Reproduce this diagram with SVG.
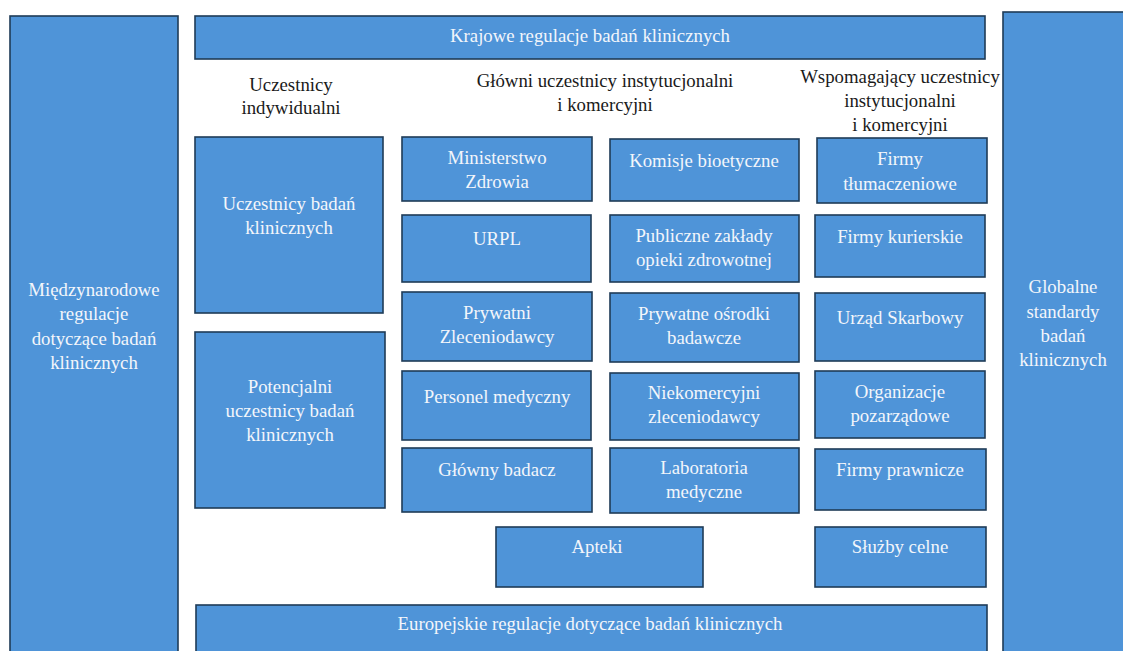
<svg xmlns="http://www.w3.org/2000/svg" width="1123" height="651" viewBox="0 0 1123 651">
  <style>
    .box { fill: #4f94d8; stroke: #1f3b57; stroke-width: 1.6; }
    .w { fill: #f3f6fb; }
    .k { fill: #1a1a1a; }
  </style>
  <rect width="1123" height="651" fill="#ffffff"/>

  <g font-family="Liberation Serif, DejaVu Serif, serif" font-size="18.8" text-anchor="middle">
  <!-- outer frame: international, national, european, global -->
  <g id="miedzynarodowe">
    <rect class="box" x="10" y="16" width="168" height="660"/>
    <text class="w"><tspan x="94" y="296">Międzynarodowe</tspan><tspan x="94" y="320">regulacje</tspan><tspan x="94" y="345">dotyczące badań</tspan><tspan x="94" y="369">klinicznych</tspan></text>
  </g>
  <g id="krajowe">
    <rect class="box" x="195" y="16" width="790" height="43"/>
    <text class="w" x="590" y="42">Krajowe regulacje badań klinicznych</text>
  </g>
  <g id="globalne">
    <rect class="box" x="1003" y="12" width="140" height="660"/>
    <text class="w"><tspan x="1063" y="293">Globalne</tspan><tspan x="1063" y="318">standardy</tspan><tspan x="1063" y="342">badań</tspan><tspan x="1063" y="366">klinicznych</tspan></text>
  </g>
  <g id="europejskie">
    <rect class="box" x="196" y="605" width="791" height="70"/>
    <text class="w" x="590" y="630">Europejskie regulacje dotyczące badań klinicznych</text>
  </g>

  <!-- column headings -->
  <g id="naglowek-indywidualni">
    <text class="k"><tspan x="291" y="91">Uczestnicy</tspan><tspan x="291" y="114">indywidualni</tspan></text>
  </g>
  <g id="naglowek-glowni">
    <text class="k"><tspan x="605" y="87">Główni uczestnicy instytucjonalni</tspan><tspan x="605" y="111">i komercyjni</tspan></text>
  </g>
  <g id="naglowek-wspomagajacy">
    <text class="k"><tspan x="900" y="83">Wspomagający uczestnicy</tspan><tspan x="900" y="107">instytucjonalni</tspan><tspan x="900" y="131">i komercyjni</tspan></text>
  </g>

  <!-- individual participants -->
  <g id="uczestnicy-badan">
    <rect class="box" x="195" y="137" width="188" height="176"/>
    <text class="w"><tspan x="289" y="210">Uczestnicy badań</tspan><tspan x="289" y="234">klinicznych</tspan></text>
  </g>
  <g id="potencjalni">
    <rect class="box" x="195" y="332" width="190" height="176"/>
    <text class="w"><tspan x="290" y="393">Potencjalni</tspan><tspan x="290" y="417">uczestnicy badań</tspan><tspan x="290" y="441">klinicznych</tspan></text>
  </g>

  <!-- main institutional participants, column 1 -->
  <g id="ministerstwo">
    <rect class="box" x="402" y="137" width="190" height="64"/>
    <text class="w"><tspan x="497" y="164">Ministerstwo</tspan><tspan x="497" y="188">Zdrowia</tspan></text>
  </g>
  <g id="urpl">
    <rect class="box" x="402" y="215" width="189" height="67"/>
    <text class="w" x="497" y="245">URPL</text>
  </g>
  <g id="prywatni-zleceniodawcy">
    <rect class="box" x="402" y="292" width="190" height="69"/>
    <text class="w"><tspan x="497" y="319">Prywatni</tspan><tspan x="497" y="343">Zleceniodawcy</tspan></text>
  </g>
  <g id="personel">
    <rect class="box" x="402" y="371" width="189" height="69"/>
    <text class="w" x="497" y="403">Personel medyczny</text>
  </g>
  <g id="glowny-badacz">
    <rect class="box" x="402" y="448" width="190" height="64"/>
    <text class="w" x="497" y="476">Główny badacz</text>
  </g>

  <!-- main institutional participants, column 2 -->
  <g id="komisje">
    <rect class="box" x="610" y="139" width="189" height="62"/>
    <text class="w" x="704" y="167">Komisje bioetyczne</text>
  </g>
  <g id="publiczne">
    <rect class="box" x="610" y="215" width="189" height="67"/>
    <text class="w"><tspan x="704" y="242">Publiczne zakłady</tspan><tspan x="704" y="266">opieki zdrowotnej</tspan></text>
  </g>
  <g id="prywatne-osrodki">
    <rect class="box" x="610" y="293" width="189" height="69"/>
    <text class="w"><tspan x="704" y="320">Prywatne ośrodki</tspan><tspan x="704" y="344">badawcze</tspan></text>
  </g>
  <g id="niekomercyjni">
    <rect class="box" x="610" y="373" width="189" height="67"/>
    <text class="w"><tspan x="704" y="399">Niekomercyjni</tspan><tspan x="704" y="423">zleceniodawcy</tspan></text>
  </g>
  <g id="laboratoria">
    <rect class="box" x="610" y="448" width="189" height="65"/>
    <text class="w"><tspan x="704" y="474">Laboratoria</tspan><tspan x="704" y="498">medyczne</tspan></text>
  </g>
  <g id="apteki">
    <rect class="box" x="496" y="527" width="207" height="60"/>
    <text class="w" x="597" y="553">Apteki</text>
  </g>

  <!-- supporting participants -->
  <g id="firmy-tlumaczeniowe">
    <rect class="box" x="817" y="138" width="170" height="65"/>
    <text class="w"><tspan x="900" y="165">Firmy</tspan><tspan x="900" y="190">tłumaczeniowe</tspan></text>
  </g>
  <g id="firmy-kurierskie">
    <rect class="box" x="815" y="215" width="170" height="62"/>
    <text class="w" x="900" y="243">Firmy kurierskie</text>
  </g>
  <g id="urzad-skarbowy">
    <rect class="box" x="815" y="293" width="170" height="68"/>
    <text class="w" x="900" y="324">Urząd Skarbowy</text>
  </g>
  <g id="organizacje">
    <rect class="box" x="815" y="371" width="170" height="67"/>
    <text class="w"><tspan x="900" y="398">Organizacje</tspan><tspan x="900" y="422">pozarządowe</tspan></text>
  </g>
  <g id="firmy-prawnicze">
    <rect class="box" x="815" y="449" width="171" height="61"/>
    <text class="w" x="900" y="476">Firmy prawnicze</text>
  </g>
  <g id="sluzby-celne">
    <rect class="box" x="815" y="527" width="171" height="60"/>
    <text class="w" x="900" y="553">Służby celne</text>
  </g>
  </g>
</svg>
